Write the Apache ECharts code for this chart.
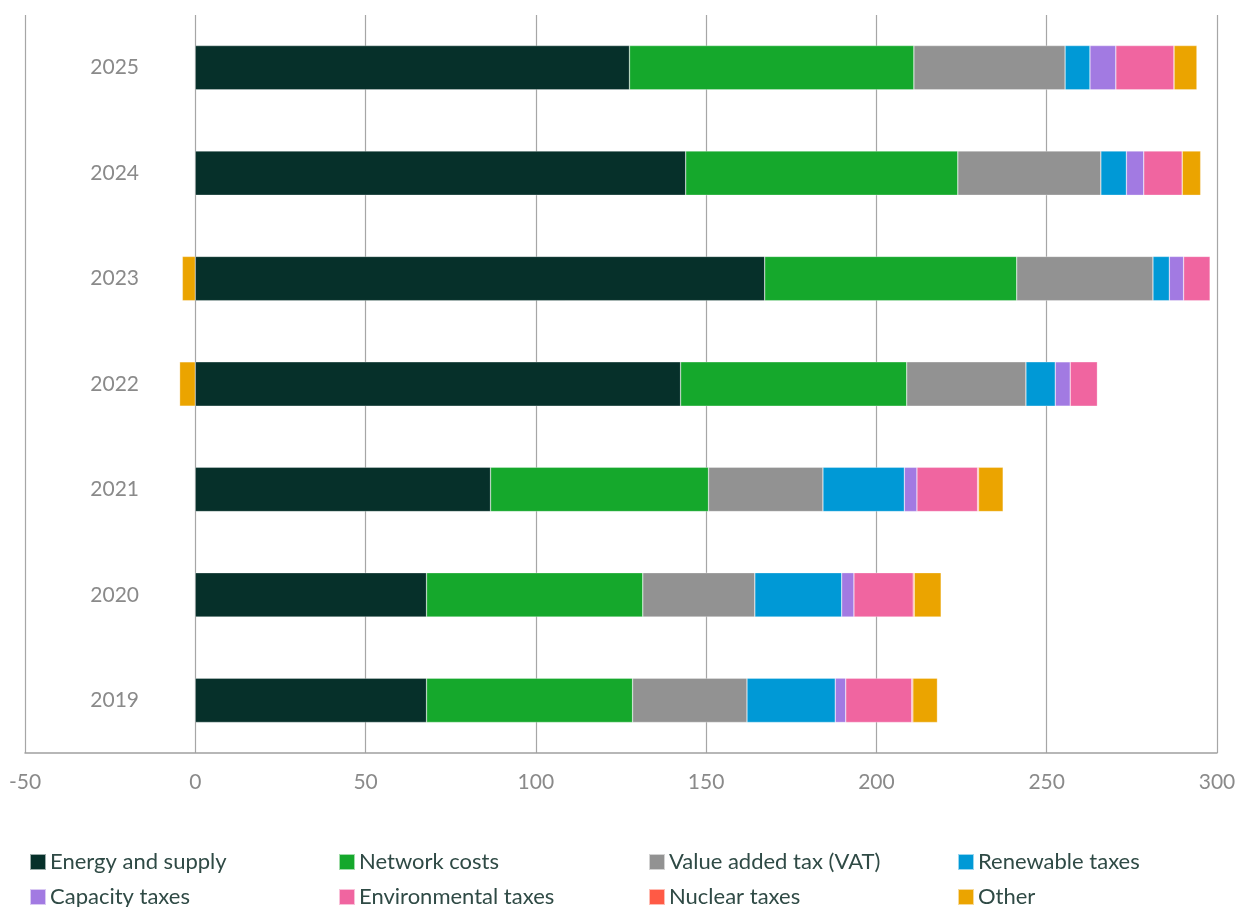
<!DOCTYPE html>
<html><head><meta charset="utf-8">
<script src="https://cdn.jsdelivr.net/npm/echarts@6/dist/echarts.min.js"></script>
<style>html,body{margin:0;padding:0;background:#fff}#c{width:1237px;height:907px}</style>
</head><body><div id="c"></div>
<script>
var years = ['2019','2020','2021','2022','2023','2024','2025'];
var energySupply   = [67.9, 67.9, 86.7, 142.5, 167.2, 144.0, 127.5];
var networkCosts   = [60.5, 63.5, 64.0, 66.4, 74.0, 79.9, 83.5];
var vat            = [33.6, 32.9, 33.6, 35.0, 40.0, 42.0, 44.4];
var renewableTaxes = [25.9, 25.5, 23.9, 8.6, 4.8, 7.5, 7.3];
var capacityTaxes  = [3.1, 3.6, 3.7, 4.4, 4.2, 5.1, 7.6];
var envTaxes       = [19.4, 17.4, 17.8, 8.0, 7.8, 11.3, 17.1];
var nuclearTaxes   = [0.3, 0.3, 0.3, 0, 0, 0, 0];
var other          = [7.2, 7.9, 7.2, -4.6, -3.8, 5.4, 6.7];
var xTicks = [-50, 0, 50, 100, 150, 200, 250, 300];

var seriesDefs = [
  ['Energy and supply', energySupply, '#06302A'],
  ['Network costs', networkCosts, '#15A82C'],
  ['Value added tax (VAT)', vat, '#929292'],
  ['Renewable taxes', renewableTaxes, '#0099D6'],
  ['Capacity taxes', capacityTaxes, '#A27AE2'],
  ['Environmental taxes', envTaxes, '#F065A0'],
  ['Nuclear taxes', nuclearTaxes, '#FF5A45'],
  ['Other', other, '#EBA400']
];
var legendPos = [[24,846],[333,846],[643,846],[952,846],[24,881],[333,881],[643,881],[952,881]];
var font = "Lato, 'Open Sans', sans-serif";

var chart = echarts.init(document.getElementById('c'), null, {renderer:'canvas'});
var legends = seriesDefs.map(function(s, i){
  return {
    data:[s[0]], left: legendPos[i][0], top: legendPos[i][1],
    itemWidth: 16, itemHeight: 16, itemGap: 0, icon: 'rect',
    selectedMode: false,
    textStyle: {fontFamily: font, fontSize: 22, color: '#2f4a45', padding:[0,0,0,-1]}
  };
});
chart.setOption({
  animation: false,
  legend: legends,
  grid: {left: 25, right: 20, top: 15, bottom: 154, containLabel: false, outerBoundsMode: 'none'},
  xAxis: {
    type: 'value', min: -50, max: 300, interval: 50,
    axisLine: {show: true, onZero: false, lineStyle: {color: '#a0a0a0', width: 1.5}},
    axisTick: {show: false},
    splitLine: {show: true, lineStyle: {color: '#a6a6a6', width: 1.2}},
    axisLabel: {color: '#8a8a8a', fontFamily: font, fontSize: 21, margin: 19,
      formatter: function(v){ return xTicks.indexOf(v) >= 0 ? String(v) : ''; }}
  },
  yAxis: {
    type: 'category', data: years,
    axisLine: {show: false, onZero: false},
    axisTick: {show: false},
    axisLabel: {color: '#8a8a8a', fontFamily: font, fontSize: 21, margin: -114, align: 'right'}
  },
  series: seriesDefs.map(function(s){
    return {
      name: s[0], type: 'bar', stack: 'total', data: s[1], barWidth: '42%',
      itemStyle: {color: s[2], borderColor: 'rgba(255,255,255,0.6)', borderWidth: 0.5}
    };
  })
});
</script></body></html>
